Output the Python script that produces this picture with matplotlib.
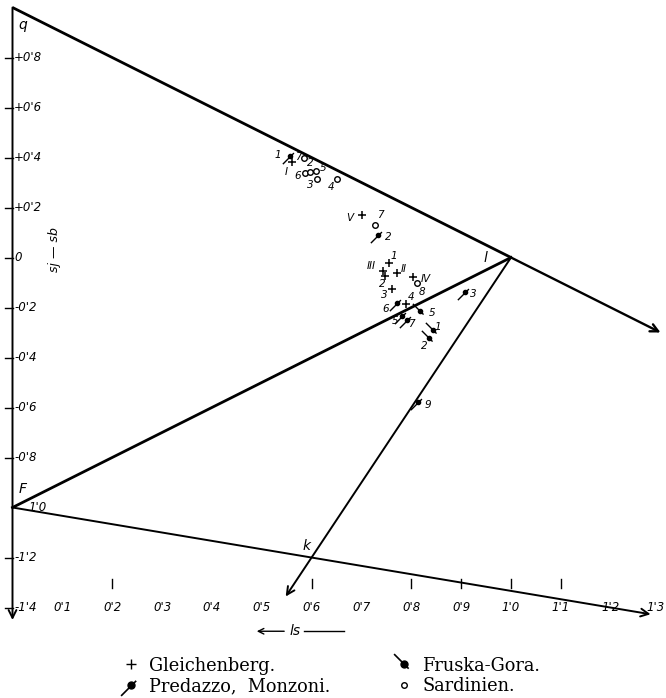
import matplotlib
matplotlib.use("Agg")
import matplotlib.pyplot as plt
from matplotlib.path import Path
from matplotlib.lines import Line2D
from matplotlib.legend_handler import HandlerTuple

# ---------------- data ----------------
# Gleichenberg (+)
gl_x = [0.561, 0.701, 0.743, 0.755, 0.747, 0.771, 0.803, 0.761, 0.789]
gl_y = [0.382, 0.170, -0.054, -0.022, -0.074, -0.062, -0.078, -0.126, -0.186]
gl_lab = ['I', 'V', 'III', '1', '2', 'II', 'IV', '3', '4']
# Sardinien (o)
sa_x = [0.585, 0.587, 0.597, 0.609, 0.611, 0.651, 0.727, 0.811]
sa_y = [0.398, 0.338, 0.342, 0.346, 0.314, 0.314, 0.130, -0.102]
sa_lab = ['7', '6', '2', '5', '3', '4', '7', '8']
# Predazzo, Monzoni
pr_x = [0.557, 0.733, 0.908, 0.781, 0.771, 0.791, 0.813]
pr_y = [0.406, 0.090, -0.138, -0.234, -0.182, -0.250, -0.578]
pr_lab = ['1', '2', '3', '5', '6', '7', '9']
# Fruska-Gora
fr_x = [0.843, 0.835, 0.817]
fr_y = [-0.290, -0.322, -0.214]
fr_lab = ['1', '2', '5']

# construction points of the diagram
pt_q = (0.0, 1.0)
pt_l = (1.0, 0.0)
pt_F = (0.0, -1.0)
pt_k = (0.6, -1.2)
ql_end = (1.3, -0.3)
Fk_end = (1.28, -1.427)
lk_end = (0.548, -1.356)
axis_bottom = -1.45

y_ticks = [0.8, 0.6, 0.4, 0.2, 0.0, -0.2, -0.4, -0.6, -0.8, -1.2, -1.4]
y_ticklabels = ['+0\'8', '+0\'6', '+0\'4', '+0\'2', '0', '-0\'2', '-0\'4',
                '-0\'6', '-0\'8', '-1\'2', '-1\'4']
x_ticks = [0.1, 0.2, 0.3, 0.4, 0.5, 0.6, 0.7, 0.8, 0.9, 1.0, 1.1, 1.2, 1.3]
x_ticklabels = ['0\'1', '0\'2', '0\'3', '0\'4', '0\'5', '0\'6', '0\'7',
                '0\'8', '0\'9', '1\'0', '1\'1', '1\'2', '1\'3']
x_tickmarks = [0.2, 0.6, 0.8, 0.9, 1.0, 1.1]

# label offsets (pixels) for point labels
gl_off = [(-6, -10), (-12, -3), (-12, 5), (5, 7), (-3, -8), (7, 4), (13, -2), (-8, -6), (5, 7)]
sa_off = [(-6, 1), (-7, -3), (0, 9), (7, 3), (-7, -6), (-6, -8), (5, 10), (5, -9)]
pr_off = [(-12, 1), (10, -2), (8, -2), (-7, -5), (-11, -6), (5, -4), (10, -3)]
fr_off = [(5, 3), (-4, -8), (12, -2)]

# ---------------- figure ----------------
W, H = 666, 698
fig = plt.figure(figsize=(W / 100, H / 100), dpi=100)
ax = fig.add_axes([0, 0, 1, 1])
ax.set_xlim((0 - 12.5) / 498.5, (W - 12.5) / 498.5)
ax.set_ylim((257.5 - H) / 250, 257.5 / 250)
ax.axis('off')

lw_thick = 2.0
lw_thin = 1.4
arrow = dict(arrowstyle='->', color='black', lw=lw_thin, mutation_scale=14,
             shrinkA=0, shrinkB=0)

# vertical axis with arrow
ax.annotate('', xy=(0, axis_bottom), xytext=pt_q, arrowprops=arrow)
# q-l line extended with arrow
ax.plot([pt_q[0], pt_l[0]], [pt_q[1], pt_l[1]], color='black', lw=lw_thick,
        solid_capstyle='butt')
ax.annotate('', xy=ql_end, xytext=pt_l,
            arrowprops=dict(arrow, lw=lw_thick - 0.3))
# F-l line
ax.plot([pt_F[0], pt_l[0]], [pt_F[1], pt_l[1]], color='black', lw=lw_thick)
# F-k line with arrow
ax.annotate('', xy=Fk_end, xytext=pt_F, arrowprops=arrow)
# l-k line with arrow
ax.annotate('', xy=lk_end, xytext=pt_l, arrowprops=arrow)

tick_font = dict(fontsize=8.5, style='italic', family='DejaVu Sans')
# y ticks
for v, t in zip(y_ticks, y_ticklabels):
    ax.plot([-0.016, 0.0], [v, v], color='black', lw=1.0)
    ax.text(0.003, v, t, ha='left', va='center', **tick_font)
ax.text(0.032, -1.0, "1'0", ha='left', va='center', **tick_font)
# x ticks
for v in x_tickmarks:
    ax.plot([v, v], [-1.285, -1.32], color='black', lw=1.0)
for v, t in zip(x_ticks[:-1], x_ticklabels[:-1]):
    ax.text(v, -1.4, t, ha='center', va='center', **tick_font)
ax.text(x_ticks[-1] + 0.008, -1.4, x_ticklabels[-1], ha='right', va='center',
        **tick_font)

# corner letters
lab_font = dict(fontsize=10, style='italic', family='DejaVu Sans')
ax.text(pt_q[0] + 0.012, pt_q[1] - 0.07, 'q', ha='left', va='center', **lab_font)
ax.text(pt_l[0] - 0.052, pt_l[1], 'l', ha='center', va='center', **lab_font)
ax.text(pt_F[0] + 0.02, pt_F[1] + 0.075, 'F', ha='center', va='center', **lab_font)
ax.text(pt_k[0] - 0.01, pt_k[1] + 0.045, 'k', ha='center', va='center', **lab_font)

# axis titles
ax.text(0.085, 0.03, 'sj — sb', rotation=90, ha='center', va='center',
        fontsize=9, style='italic', family='DejaVu Sans')
ax.annotate('', xy=(0.49, -1.495), xytext=(0.545, -1.495),
            arrowprops=dict(arrowstyle='->', color='black', lw=1.0,
                            mutation_scale=10, shrinkA=0, shrinkB=0))
ax.text(0.555, -1.495, 'ls', ha='left', va='center', fontsize=10,
        style='italic', family='DejaVu Sans')
ax.plot([0.585, 0.665], [-1.495, -1.495], color='black', lw=1.0)

# markers
pred_tail = Path([(-1.0, -1.0), (0.45, 0.45)], [Path.MOVETO, Path.LINETO])
frus_tail = Path([(-1.0, 1.0), (0.4, -0.4)], [Path.MOVETO, Path.LINETO])

ax.plot(gl_x, gl_y, ls='none', marker='+', ms=6, mew=1.1, color='black')
ax.plot(sa_x, sa_y, ls='none', marker='o', ms=4, mew=1.0, mfc='white',
        mec='black')
ax.plot(pr_x, pr_y, ls='none', marker=pred_tail, ms=11, mew=1.0, color='black')
ax.plot(pr_x, pr_y, ls='none', marker='o', ms=3, color='black')
ax.plot(fr_x, fr_y, ls='none', marker=frus_tail, ms=11, mew=1.0, color='black')
ax.plot(fr_x, fr_y, ls='none', marker='o', ms=3, color='black')

num_font = dict(fontsize=7.5, style='italic', family='DejaVu Sans')
for xs, ys, labs, offs in [(gl_x, gl_y, gl_lab, gl_off),
                           (sa_x, sa_y, sa_lab, sa_off),
                           (pr_x, pr_y, pr_lab, pr_off),
                           (fr_x, fr_y, fr_lab, fr_off)]:
    for x, y, t, o in zip(xs, ys, labs, offs):
        ax.annotate(t, (x, y), xytext=o, textcoords='offset pixels',
                    ha='center', va='center', **num_font)

# legend
h_gl = Line2D([], [], ls='none', marker='+', ms=7, mew=1.0, color='black')
h_pr = (Line2D([], [], ls='none', marker=pred_tail, ms=15, mew=1.2, color='black'),
        Line2D([], [], ls='none', marker='o', ms=5, color='black'))
h_fr = (Line2D([], [], ls='none', marker=frus_tail, ms=15, mew=1.2, color='black'),
        Line2D([], [], ls='none', marker='o', ms=5, color='black'))
h_sa = Line2D([], [], ls='none', marker='o', ms=4, mew=1.0, mfc='white',
              mec='black')
fig.legend([h_gl, h_pr, h_fr, h_sa],
           ['Gleichenberg.', 'Predazzo,  Monzoni.', 'Fruska-Gora.', 'Sardinien.'],
           handler_map={tuple: HandlerTuple(ndivide=1)},
           ncol=2, loc='center', bbox_to_anchor=(331 / W, 1 - 676 / H),
           frameon=False, prop=dict(family='DejaVu Serif', size=12.8),
           handlelength=1.0, handletextpad=0.5, columnspacing=3.7,
           labelspacing=0.15)

fig.savefig('out.png', dpi=100)
